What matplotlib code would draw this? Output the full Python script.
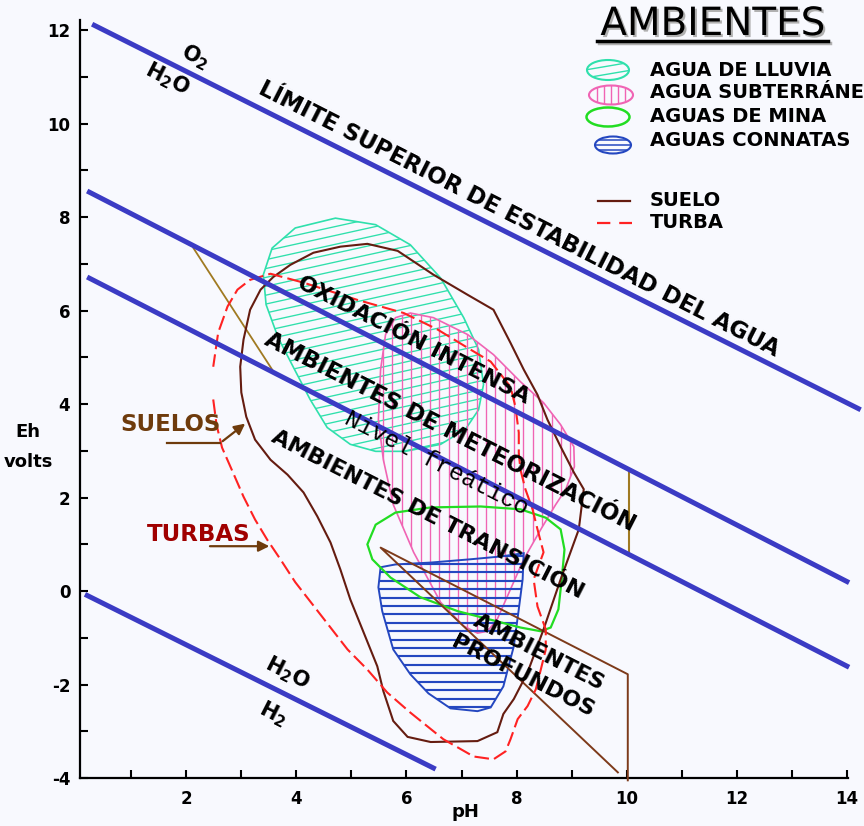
import numpy as np
import matplotlib
matplotlib.use("Agg")
import matplotlib.pyplot as plt
from matplotlib.patches import Polygon, Ellipse
import matplotlib.patheffects as pe

plt.rcParams["axes.unicode_minus"] = False

# ---------------- data (pH, Eh*10) ----------------
# water stability limits and environment boundaries (blue lines)
lim_sup_x = [0.29, 14.25]
lim_sup_y = [12.13, 3.88]
lim_inf_x = [0.16, 6.53]
lim_inf_y = [-0.07, -3.81]
oxid_x = [0.20, 14.04]
oxid_y = [8.56, 0.18]
meteo_x = [0.20, 14.04]
meteo_y = [6.72, -1.63]

# olive auxiliary segments
olive1_x = [2.13, 3.56]
olive1_y = [7.34, 4.74]
olive2_x = [10.04, 10.04]
olive2_y = [2.60, 0.78]

# brown quadrilateral (ambientes profundos)
prof_x = [9.84, 5.53, 10.02, 10.02]
prof_y = [-3.88, 0.93, -1.78, -4.05]

# AGUA DE LLUVIA
lluvia_x = [4.71, 5.44, 6.07, 6.62, 7.04, 7.31, 7.40, 7.31, 7.07, 6.62, 5.98, 5.44, 4.98,
            4.56, 4.25, 3.95, 3.67, 3.45, 3.40, 3.56, 3.98]
lluvia_y = [7.98, 7.84, 7.41, 6.70, 5.85, 5.17, 4.42, 3.88, 3.46, 3.14, 2.99, 2.99, 3.14,
            3.50, 4.10, 4.78, 5.42, 6.13, 6.77, 7.34, 7.77]

# AGUA SUBTERRANEA
subt_x = [6.07, 6.49, 7.11, 7.58, 8.07, 8.49, 8.80, 9.04, 9.05, 8.89, 8.71, 8.44, 8.13, 7.89,
          7.65, 7.47, 7.29, 7.04, 6.62, 6.13, 5.76, 5.58, 5.49, 5.53, 5.62, 5.80]
subt_y = [5.95, 5.85, 5.49, 5.06, 4.48, 4.03, 3.56, 3.09, 2.66, 2.17, 1.85, 1.32, 0.68, 0.04,
          -0.60, -0.86, -0.90, -0.75, -0.24, 0.83, 1.85, 2.81, 3.67, 4.74, 5.49, 5.85]

# AGUAS DE MINA
mina_x = [5.29, 5.44, 5.80, 6.44, 7.35, 8.07, 8.53, 8.80, 8.87, 8.82, 8.76, 8.62, 8.44, 8.07,
          7.65, 6.93, 6.25, 5.71, 5.38]
mina_y = [1.00, 1.42, 1.68, 1.79, 1.81, 1.75, 1.57, 1.32, 0.89, 0.25, -0.39, -0.78, -0.86,
          -0.78, -0.65, -0.43, -0.13, 0.29, 0.68]

# AGUAS CONNATAS
conn_x = [5.53, 5.80, 6.44, 7.16, 7.71, 8.13, 8.11, 8.04, 7.95, 7.76, 7.53, 7.29, 6.80, 6.40,
          6.07, 5.76, 5.56, 5.49]
conn_y = [0.51, 0.57, 0.61, 0.68, 0.74, 0.81, 0.25, -0.39, -1.18, -2.04, -2.49, -2.57, -2.51,
          -2.19, -1.78, -1.25, -0.43, 0.08]

# SUELO
suelo_x = [5.29, 5.84, 6.49, 7.11, 7.58, 7.89, 8.13, 8.38, 8.56, 8.80, 9.04, 9.22, 9.13, 8.80,
           8.49, 8.20, 7.95, 7.76, 7.65, 7.29, 6.44, 6.02, 5.76, 5.58, 5.47, 5.22, 4.98, 4.80,
           4.62, 4.38, 4.13, 3.84, 3.53, 3.25, 3.09, 3.00, 2.98, 3.04, 3.16, 3.35, 3.58, 3.89,
           4.31, 4.80]
suelo_y = [7.43, 7.28, 6.77, 6.34, 6.02, 5.31, 4.74, 4.20, 3.67, 3.09, 2.54, 2.18, 1.32, 0.25,
           -0.82, -1.74, -2.31, -2.63, -3.02, -3.21, -3.23, -3.12, -2.78, -2.14, -1.61, -0.88,
           -0.18, 0.46, 1.04, 1.60, 2.11, 2.49, 2.81, 3.24, 3.73, 4.25, 4.80, 5.38, 6.02, 6.45,
           6.72, 6.98, 7.24, 7.37]

# TURBA
turba_x = [2.49, 2.55, 2.65, 2.84, 3.04, 3.25, 3.47, 3.71, 3.98, 4.31, 4.62, 4.93, 5.29, 5.65,
           6.07, 6.67, 7.22, 7.58, 7.80, 7.89, 8.02, 8.20, 8.35, 8.44, 8.53, 8.53, 8.38, 8.31,
           8.49, 8.38, 8.29, 8.16, 8.07, 8.04, 8.04, 7.98, 7.89, 7.53, 7.16, 6.56, 5.95, 5.11,
           4.13, 3.53, 3.16, 2.93, 2.75, 2.58, 2.49]
turba_y = [4.10, 3.56, 3.07, 2.56, 2.02, 1.53, 1.10, 0.68, 0.19, -0.31, -0.78, -1.25, -1.68,
           -2.17, -2.60, -3.17, -3.54, -3.60, -3.43, -3.17, -2.74, -2.46, -2.10, -1.68, -1.25,
           -0.82, -0.33, 0.25, 0.83, 1.32, 1.75, 2.18, 2.60, 2.96, 3.39, 3.94, 4.37, 4.91, 5.17,
           5.60, 5.95, 6.23, 6.60, 6.79, 6.66, 6.45, 6.09, 5.53, 4.80]

x_ticks_major = [2, 4, 6, 8, 10, 12, 14]
x_ticks_minor = [1, 3, 5, 7, 9, 11, 13]
y_ticks_major = [-4, -2, 0, 2, 4, 6, 8, 10, 12]
y_ticks_minor = [-3, -1, 1, 3, 5, 7, 9, 11]

legend_labels = ["AGUA DE LLUVIA", "AGUA SUBTERRÁNEA", "AGUAS DE MINA", "AGUAS CONNATAS"]
line_labels = ["SUELO", "TURBA"]

# ---------------- style ----------------
BG = "#f8f9fe"
BLUE = "#3b3bc4"
CYAN = "#2fe0ac"
PINK = "#f064b4"
GREEN = "#22dd22"
CBLUE = "#2447c0"
SUELO_C = "#651c10"
PROF_C = "#7d3a1a"
OLIVE = "#a07a22"
RED = "#ff2222"
FONT = "DejaVu Sans"

W, H = 864, 826
fig = plt.figure(figsize=(W / 100, H / 100), dpi=100, facecolor=BG)
L, R, T, B = 80, 848, 20, 778
ax = fig.add_axes([L / W, 1 - B / H, (R - L) / W, (B - T) / H], facecolor=BG)
ax.set_xlim(0.07, 14.02)
ax.set_ylim(-3.98, 12.22)

for s in ["top", "right"]:
    ax.spines[s].set_visible(False)
for s in ["left", "bottom"]:
    ax.spines[s].set_linewidth(1.6)
    ax.spines[s].set_color("black")

ax.set_xticks(x_ticks_major)
ax.set_xticks(x_ticks_minor, minor=True)
ax.set_yticks(y_ticks_major)
ax.set_yticks(y_ticks_minor, minor=True)
ax.tick_params(which="both", direction="in", length=6, width=1.5, color="black")
ax.tick_params(axis="x", which="major", pad=9)
ax.tick_params(axis="y", which="major", pad=7)
for lab in ax.get_xticklabels() + ax.get_yticklabels():
    lab.set_fontweight("bold")
    lab.set_fontsize(12)
    lab.set_family(FONT)


def hatched(xs, ys, color, kind, spacing, slope=0.0, lw=1.1, z=2):
    poly = Polygon(np.column_stack([xs, ys]), closed=True, fill=False,
                   edgecolor=color, lw=lw, zorder=z + 0.1)
    ax.add_patch(poly)
    x0, x1 = min(xs), max(xs)
    y0, y1 = min(ys), max(ys)
    if kind == "v":
        for xv in np.arange(x0 + spacing / 2, x1, spacing):
            ln, = ax.plot([xv, xv], [y0, y1], color=color, lw=lw * 0.8, zorder=z)
            ln.set_clip_path(poly)
    elif kind == "h":
        for yv in np.arange(y0 + spacing / 2, y1, spacing):
            ln, = ax.plot([x0, x1], [yv, yv], color=color, lw=lw * 1.1, zorder=z)
            ln.set_clip_path(poly)
    elif kind == "s":
        span = slope * (x1 - x0)
        for yv in np.arange(y0 - span, y1, spacing):
            ln, = ax.plot([x0, x1], [yv, yv + span], color=color, lw=lw * 0.8, zorder=z)
            ln.set_clip_path(poly)
    return poly


hatched(lluvia_x, lluvia_y, CYAN, "s", 0.19, slope=0.26, lw=1.2, z=2)
hatched(subt_x, subt_y, PINK, "v", 0.17, lw=1.2, z=2.2)
hatched(conn_x, conn_y, CBLUE, "h", 0.18, lw=1.4, z=2.4)
ax.add_patch(Polygon(np.column_stack([mina_x, mina_y]), closed=True, fill=False,
                     edgecolor=GREEN, lw=1.6, zorder=2.6))

ax.plot(olive1_x, olive1_y, color=OLIVE, lw=1.3, zorder=3)
ax.plot(olive2_x, olive2_y, color=OLIVE, lw=1.5, zorder=3)
ax.plot(prof_x, prof_y, color=PROF_C, lw=1.4, zorder=3, clip_on=False)
ax.add_patch(Polygon(np.column_stack([suelo_x, suelo_y]), closed=True, fill=False,
                     edgecolor=SUELO_C, lw=1.5, zorder=3.2))
ax.plot(turba_x, turba_y, color=RED, lw=1.5, dashes=(7, 2.5), zorder=3.3)

for xs, ys in [(lim_sup_x, lim_sup_y), (lim_inf_x, lim_inf_y),
               (oxid_x, oxid_y), (meteo_x, meteo_y)]:
    ax.plot(xs, ys, color=BLUE, lw=3.6, solid_capstyle="butt", zorder=4, clip_on=False)

ROT = -27
tk = dict(ha="center", va="center", rotation=ROT, rotation_mode="anchor",
          fontweight="bold", family=FONT, color="black", zorder=6)
ax.text(8.05, 7.95, "LÍMITE SUPERIOR DE ESTABILIDAD DEL AGUA", fontsize=16.5, **tk)
ax.text(6.13, 5.38, "OXIDACIÓN INTENSA", fontsize=16, **tk)
ax.text(6.80, 3.41, "AMBIENTES DE METEORIZACIÓN", fontsize=16.5, **tk)
ax.text(6.38, 1.64, "AMBIENTES DE TRANSICIÓN", fontsize=16, **tk)
ax.text(8.40, -1.31, "AMBIENTES", fontsize=16, **tk)
ax.text(8.11, -1.82, "PROFUNDOS", fontsize=16, **tk)
ax.text(6.55, 2.73, "Nivel freático", fontsize=17.5, ha="center", va="center",
        rotation=ROT, rotation_mode="anchor", family="Liberation Mono", color="black", zorder=6)
ax.text(2.16, 11.43, r"O$_\mathbf{2}$", fontsize=15, **tk)
ax.text(1.65, 10.96, r"H$_\mathbf{2}$O", fontsize=15, **tk)
ax.text(3.84, -1.76, r"H$_\mathbf{2}$O", fontsize=15, **tk)
ax.text(3.58, -2.63, r"H$_\mathbf{2}$", fontsize=15, **tk)

ax.text(1.71, 3.56, "SUELOS", fontsize=16.5, fontweight="bold", family=FONT,
        color="#6e3b0c", ha="center", va="center", zorder=6)
ax.text(2.22, 1.21, "TURBAS", fontsize=16.5, fontweight="bold", family=FONT,
        color="#a00000", ha="center", va="center", zorder=6)
ARC = "#6e3b0c"
ax.plot([1.65, 2.62], [3.17, 3.17], color=ARC, lw=1.6, zorder=6)
ax.annotate("", xy=(3.11, 3.62), xytext=(2.62, 3.17),
            arrowprops=dict(arrowstyle="-|>", color=ARC, lw=1.6, mutation_scale=16), zorder=6)
ax.annotate("", xy=(3.56, 0.96), xytext=(2.38, 0.96),
            arrowprops=dict(arrowstyle="-|>", color=ARC, lw=1.6, mutation_scale=16), zorder=6)

# axis titles
fig.text(28 / W, 1 - 432 / H, "Eh", fontsize=13, fontweight="bold", family=FONT,
         ha="center", va="center")
fig.text(28 / W, 1 - 462 / H, "volts", fontsize=13, fontweight="bold", family=FONT,
         ha="center", va="center")
fig.text(465 / W, 1 - 812 / H, "pH", fontsize=13, fontweight="bold", family=FONT,
         ha="center", va="center")

# ---------------- legend (overlay in pixel space) ----------------
ov = fig.add_axes([0, 0, 1, 1], facecolor="none")
ov.set_xlim(0, W)
ov.set_ylim(H, 0)
ov.axis("off")
ov.set_zorder(10)

shadow = [pe.SimpleLineShadow(offset=(1.5, -1.5), shadow_color="#b0b0b0", alpha=1), pe.Normal()]
ov.text(713, 24, "AMBIENTES", fontsize=28, family=FONT, color="black",
        ha="center", va="center",
        path_effects=[pe.SimplePatchShadow(offset=(1.5, -1.5), shadow_rgbFace="#b0b0b0",
                                           alpha=1), pe.Normal()])
ov.plot([597, 828], [41, 41], color="black", lw=2.5, path_effects=shadow)

rows_y = [70, 93, 116, 140]
for lab, yy in zip(legend_labels, rows_y):
    ov.text(650, yy, lab, fontsize=14, fontweight="bold", family=FONT,
            ha="left", va="center", clip_on=False)

e1 = Ellipse((608, 70), 42, 20, fill=False, edgecolor=CYAN, lw=1.5)
ov.add_patch(e1)
for k in [-4, 4]:
    ln, = ov.plot([585, 632], [74 + k, 66 + k], color=CYAN, lw=1.0)
    ln.set_clip_path(e1)
e2 = Ellipse((611, 95), 44, 19, fill=False, edgecolor=PINK, lw=1.5)
ov.add_patch(e2)
for xv in [597, 604, 611, 618, 625]:
    ln, = ov.plot([xv, xv], [84, 106], color=PINK, lw=1.0)
    ln.set_clip_path(e2)
ov.add_patch(Ellipse((608, 117), 43, 19, fill=False, edgecolor=GREEN, lw=1.8))
e4 = Ellipse((613, 145), 36, 17, fill=False, edgecolor=CBLUE, lw=1.5)
ov.add_patch(e4)
for yv in [140, 145, 150]:
    ln, = ov.plot([594, 632], [yv, yv], color=CBLUE, lw=1.1)
    ln.set_clip_path(e4)

ov.plot([598, 630], [201, 201], color=SUELO_C, lw=1.6)
ov.plot([597, 632], [223, 223], color=RED, lw=1.6, dashes=(6, 4))
for lab, yy in zip(line_labels, [200, 222]):
    ov.text(650, yy, lab, fontsize=14, fontweight="bold", family=FONT,
            ha="left", va="center")

fig.savefig("out.png", dpi=100, facecolor=BG)
